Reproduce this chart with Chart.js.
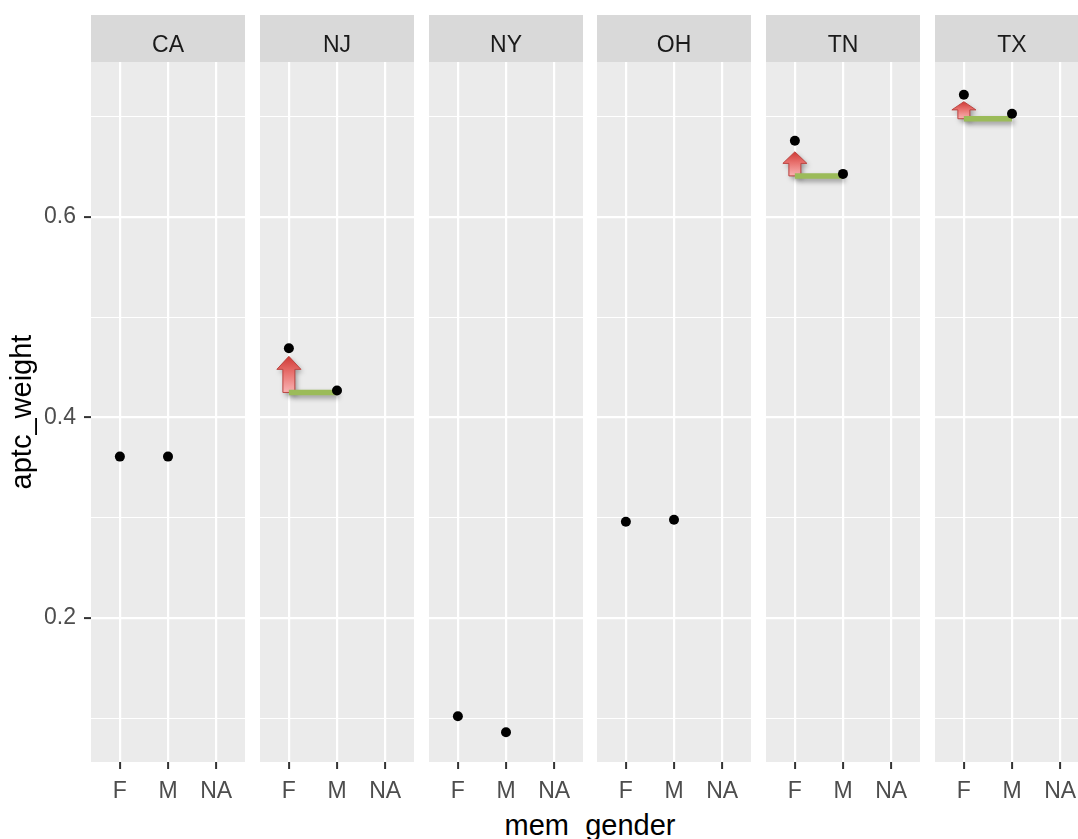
<!DOCTYPE html>
<html><head><meta charset="utf-8">
<script src="https://cdn.jsdelivr.net/npm/chart.js@4.4.0/dist/chart.umd.min.js"></script>
<style>
html,body{margin:0;padding:0;background:#fff;overflow:hidden;}
#wrap{position:relative;width:1078px;height:839px;overflow:hidden;}
#wrap canvas{position:absolute;top:0;}
#xtitle{position:absolute;left:0;width:1180px;text-align:center;top:811px;font-size:29px;font-family:"Liberation Sans",Arial,sans-serif;line-height:29px;color:#000;white-space:nowrap;}
</style></head>
<body><div id="wrap"><div id="xtitle">mem_gender</div></div>
<script>
// ---- data ----
const states = ['CA', 'NJ', 'NY', 'OH', 'TN', 'TX'];
const genders = ['F', 'M', 'NA'];
const weightF = [0.361, 0.469, 0.102, 0.296, 0.676, 0.722];
const weightM = [0.361, 0.427, 0.086, 0.298, 0.643, 0.703];
const arrowTip = [null, 0.461, null, null, 0.665, 0.715];
const arrowBase = [null, 0.425, null, null, 0.641, 0.698];
const yTicks = [0.1, 0.2, 0.3, 0.4, 0.5, 0.6, 0.7];
const yRange = [0.0564, 0.7546];
const xRange = [0.4, 3.6];
const xTitle = 'mem_gender';
const yTitle = 'aptc_weight';

// ---- layout ----
const PANEL0 = 91, PITCH = 168.8, PW = 154, TOP = 62, BOTTOM = 762, H = 839;
const FONT = '"Liberation Sans", Arial, sans-serif';
Chart.defaults.font.family = FONT;
const isMajor = v => Math.round(v * 10) % 2 === 0;

const panelBg = {
  id: 'panelBg',
  beforeDraw(chart, args, opts) {
    const {ctx, chartArea: a} = chart;
    ctx.save();
    ctx.fillStyle = '#ebebeb';
    ctx.fillRect(a.left, a.top, a.right - a.left, a.bottom - a.top);
    ctx.fillStyle = '#d9d9d9';
    ctx.fillRect(a.left, 15, a.right - a.left, a.top - 15);
    ctx.fillStyle = '#1a1a1a';
    ctx.font = '23px ' + FONT;
    ctx.textAlign = 'center';
    ctx.textBaseline = 'alphabetic';
    ctx.fillText(opts.label, (a.left + a.right) / 2, 52);
    ctx.restore();
  }
};

const arrowPlugin = {
  id: 'arrowPlugin',
  beforeDatasetsDraw(chart, args, opts) {
    if (opts.tip == null) return;
    const {ctx} = chart;
    const xs = chart.scales.x, ys = chart.scales.y;
    const cx = xs.getPixelForValue(1);
    const yTip = ys.getPixelForValue(opts.tip);
    const yBase = ys.getPixelForValue(opts.base);
    const len = yBase - yTip;
    const headW = 24, shaftW = 12, headH = Math.min(13, len * 0.48);
    ctx.save();
    ctx.shadowColor = 'rgba(0,0,0,0.35)';
    ctx.shadowBlur = 5; ctx.shadowOffsetX = 2; ctx.shadowOffsetY = 3;
    const g = ctx.createLinearGradient(0, yTip, 0, yBase);
    g.addColorStop(0, '#cf3a36');
    g.addColorStop(0.45, '#e8716e');
    g.addColorStop(1, '#f9b4b4');
    ctx.beginPath();
    ctx.moveTo(cx, yTip);
    ctx.lineTo(cx + headW / 2, yTip + headH);
    ctx.lineTo(cx + shaftW / 2, yTip + headH);
    ctx.lineTo(cx + shaftW / 2, yBase);
    ctx.lineTo(cx - shaftW / 2, yBase);
    ctx.lineTo(cx - shaftW / 2, yTip + headH);
    ctx.lineTo(cx - headW / 2, yTip + headH);
    ctx.closePath();
    ctx.fillStyle = g;
    ctx.fill();
    ctx.shadowColor = 'rgba(0,0,0,0)';
    ctx.strokeStyle = '#bb4440';
    ctx.lineWidth = 1;
    ctx.stroke();
    ctx.restore();
  },
  beforeDatasetDraw(chart, args) {
    const ds = chart.data.datasets[args.index];
    if (ds.label === 'bar') {
      const ctx = chart.ctx;
      ctx.save();
      ctx.shadowColor = 'rgba(0,0,0,0.35)';
      ctx.shadowBlur = 5; ctx.shadowOffsetX = 2; ctx.shadowOffsetY = 3;
    }
  },
  afterDatasetDraw(chart, args) {
    const ds = chart.data.datasets[args.index];
    if (ds.label === 'bar') chart.ctx.restore();
  }
};

const wrap = document.getElementById('wrap');
states.forEach((st, i) => {
  const left = i === 0 ? 0 : Math.round(PANEL0 + i * PITCH);
  const width = i === 0 ? PANEL0 + PW : PW;
  const cv = document.createElement('canvas');
  cv.width = width; cv.height = H;
  cv.style.left = left + 'px';
  cv.style.width = width + 'px'; cv.style.height = H + 'px';
  wrap.appendChild(cv);

  const datasets = [{
    label: 'points',
    data: [{x: 1, y: weightF[i]}, {x: 2, y: weightM[i]}],
    backgroundColor: '#000', borderWidth: 0, pointRadius: 5, pointHoverRadius: 5, order: 0,
    clip: false
  }];
  if (arrowBase[i] != null) {
    datasets.push({
      label: 'bar',
      data: [{x: 1, y: arrowBase[i]}, {x: 2, y: arrowBase[i]}],
      showLine: true, borderColor: '#9bbb59', borderWidth: 5.5, borderCapStyle: 'butt',
      pointRadius: 0, order: 1
    });
  }

  new Chart(cv, {
    type: 'scatter',
    data: {datasets},
    plugins: [panelBg, arrowPlugin],
    options: {
      responsive: false, animation: false, devicePixelRatio: 1,
      layout: {autoPadding: false, padding: {top: TOP, left: 0, right: 0, bottom: 0}},
      plugins: {
        legend: {display: false}, tooltip: {enabled: false},
        panelBg: {label: st},
        arrowPlugin: {tip: arrowTip[i], base: arrowBase[i]}
      },
      scales: {
        x: {
          type: 'linear', min: xRange[0], max: xRange[1],
          afterBuildTicks: s => { s.ticks = genders.map((g, k) => ({value: k + 1})); },
          afterFit: s => { s.height = H - BOTTOM; },
          ticks: {
            callback: v => genders[Math.round(v) - 1],
            color: '#4d4d4d', font: {size: 23}, padding: 9, maxRotation: 0, autoSkip: false
          },
          grid: {color: '#ffffff', lineWidth: 2.2, drawTicks: true, tickLength: 7, tickColor: '#333333', tickWidth: 2},
          border: {display: false}
        },
        y: {
          type: 'linear', min: yRange[0], max: yRange[1],
          afterBuildTicks: s => { s.ticks = yTicks.map(v => ({value: v})); },
          afterFit: s => { s.width = i === 0 ? PANEL0 : 0; },
          ticks: {
            display: i === 0,
            callback: v => isMajor(v) ? v.toFixed(1) : '',
            color: '#4d4d4d', font: {size: 23}, padding: 8, autoSkip: false
          },
          grid: {
            color: '#ffffff',
            lineWidth: c => isMajor(c.tick.value) ? 2.2 : 1.1,
            drawTicks: true, tickLength: 7,
            tickColor: c => (i === 0 && isMajor(c.tick.value)) ? '#333333' : 'rgba(0,0,0,0)',
            tickWidth: 2
          },
          border: {display: false},
          title: {display: i === 0, text: yTitle, color: '#000', font: {size: 29}, padding: {top: 6, bottom: 0}}
        }
      }
    }
  });
});
document.getElementById('xtitle').textContent = xTitle;
</script>
</body></html>
